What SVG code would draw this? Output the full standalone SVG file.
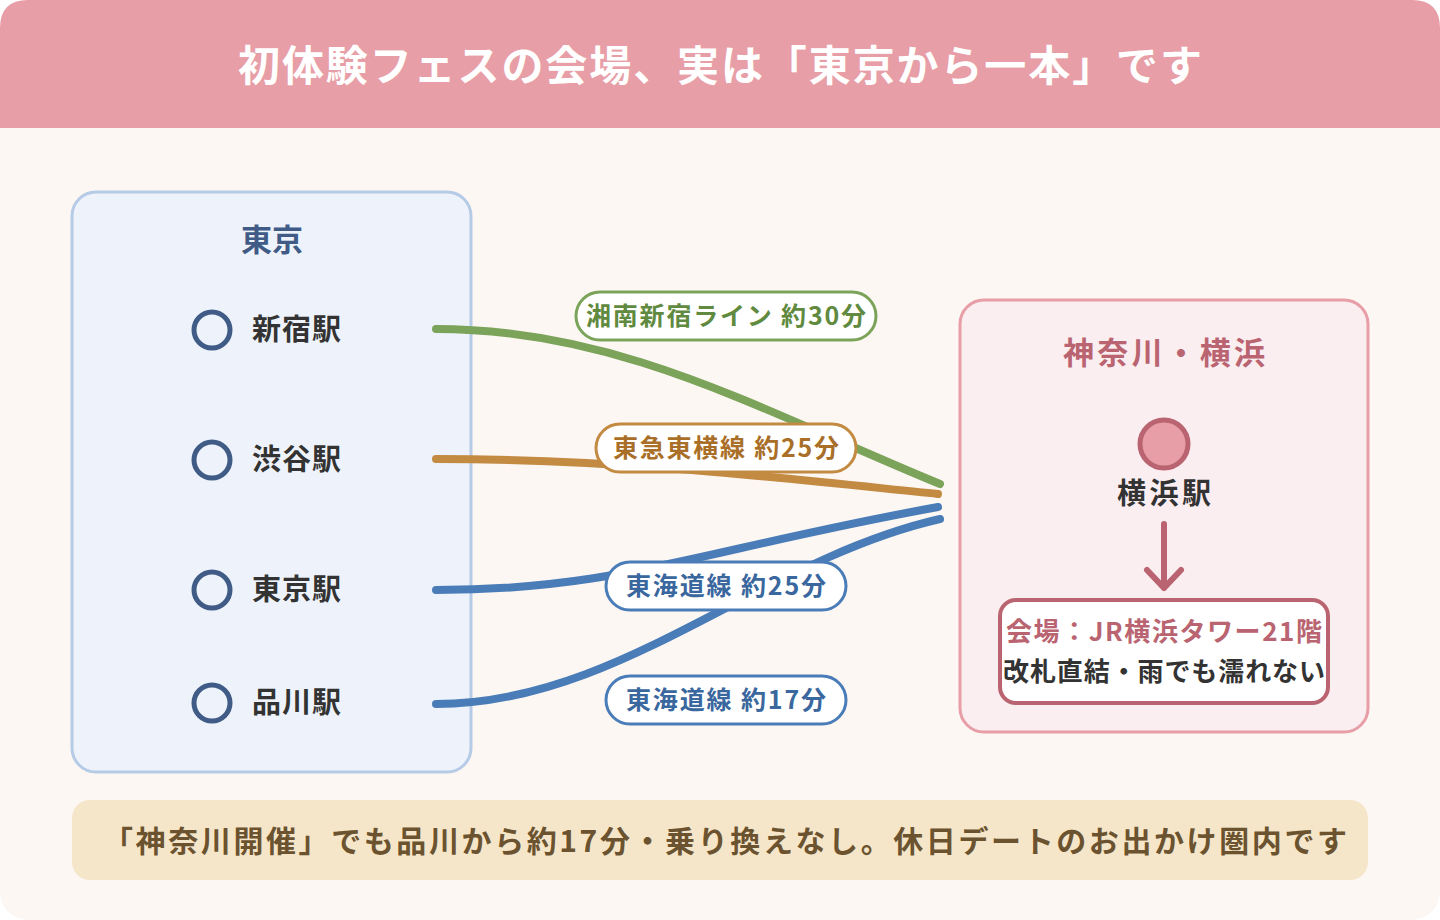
<svg xmlns="http://www.w3.org/2000/svg" width="1440" height="920" viewBox="0 0 1440 920">
<style>
text{font-family:"Noto Sans CJK JP","Noto Sans",sans-serif;font-weight:bold}
.st{font-size:29px;fill:#333}
.ring{fill:none;stroke:#3f5b86;stroke-width:5}
.line{fill:none;stroke-width:8;stroke-linecap:round}
.lab{fill:#fff;stroke-width:3}
.lt{font-size:25px;text-anchor:middle}
</style>
<rect x="0" y="0" width="1440" height="920" rx="28" fill="#fdf7f4"/>
<path d="M0 28 Q0 0 28 0 H1412 Q1440 0 1440 28 V128 H0 Z" fill="#e79ea6"/>
<text x="720" y="81" font-size="42" fill="#fff" text-anchor="middle" textLength="964" lengthAdjust="spacing">初体験フェスの会場、実は「東京から一本」です</text>
<g id="tokyo">
<rect x="72" y="192" width="399" height="580" rx="24" fill="#eef3fb" stroke="#b6cbe6" stroke-width="3"/>
<text x="272" y="251" font-size="31" fill="#3f5b86" text-anchor="middle">東京</text>
<circle cx="212" cy="330" r="18" class="ring"/><text x="252" y="340" class="st" textLength="89">新宿駅</text>
<circle cx="212" cy="460" r="18" class="ring"/><text x="252" y="470" class="st" textLength="89">渋谷駅</text>
<circle cx="212" cy="590" r="18" class="ring"/><text x="252" y="600" class="st" textLength="89">東京駅</text>
<circle cx="212" cy="703" r="18" class="ring"/><text x="252" y="713" class="st" textLength="89">品川駅</text>
</g>
<g id="kanagawa">
<rect x="960" y="300" width="408" height="432" rx="24" fill="#faeef0" stroke="#e79ea6" stroke-width="3"/>
<text x="1164" y="364" font-size="31" fill="#b96470" text-anchor="middle" textLength="202">神奈川・横浜</text>
<circle cx="1164" cy="444" r="24" fill="#e79ea6" stroke="#b96470" stroke-width="5"/>
<text x="1164" y="504" class="st" text-anchor="middle" textLength="94">横浜駅</text>
<path d="M1164 524 V588 M1147 570 L1164 588 L1181 570" fill="none" stroke="#b96470" stroke-width="6" stroke-linecap="round" stroke-linejoin="round"/>
<rect x="1000" y="600" width="328" height="103" rx="16" fill="#fff" stroke="#b96470" stroke-width="4"/>
<text x="1164" y="641" font-size="26" fill="#b96470" text-anchor="middle" textLength="316">会場：JR横浜タワー21階</text>
<text x="1164" y="681" font-size="26" fill="#333" text-anchor="middle" textLength="322">改札直結・雨でも濡れない</text>
</g>
<g id="connectors">
<path class="line" stroke="#7ca35a" d="M436 329 C620 329 760 410 940 484"/>
<path class="line" stroke="#c38a42" d="M436 459 C620 459 780 478 938 494"/>
<path class="line" stroke="#4a7db8" d="M436 590 C620 590 700 550 938 507"/>
<path class="line" stroke="#4a7db8" d="M436 704 C620 704 760 560 940 519"/>
</g>
<g id="labels">
<rect x="576" y="292" width="300" height="48" rx="24" class="lab" stroke="#7ca35a"/><text x="726" y="325" class="lt" fill="#5f8a40" textLength="280">湘南新宿ライン 約30分</text>
<rect x="596" y="424" width="260" height="48" rx="24" class="lab" stroke="#c38a42"/><text x="726" y="457" class="lt" fill="#a96f28" textLength="226">東急東横線 約25分</text>
<rect x="606" y="562" width="240" height="48" rx="24" class="lab" stroke="#4a7db8"/><text x="726" y="595" class="lt" fill="#3a679e" textLength="200">東海道線 約25分</text>
<rect x="606" y="676" width="240" height="48" rx="24" class="lab" stroke="#4a7db8"/><text x="726" y="709" class="lt" fill="#3a679e" textLength="200">東海道線 約17分</text>
</g>
<g id="footer">
<rect x="72" y="800" width="1296" height="80" rx="18" fill="#f6e6c9"/>
<text x="725" y="852" font-size="30" fill="#6b5330" text-anchor="middle" textLength="1244" lengthAdjust="spacing">「神奈川開催」でも品川から約17分・乗り換えなし。休日デートのお出かけ圏内です</text>
</g>
</svg>
